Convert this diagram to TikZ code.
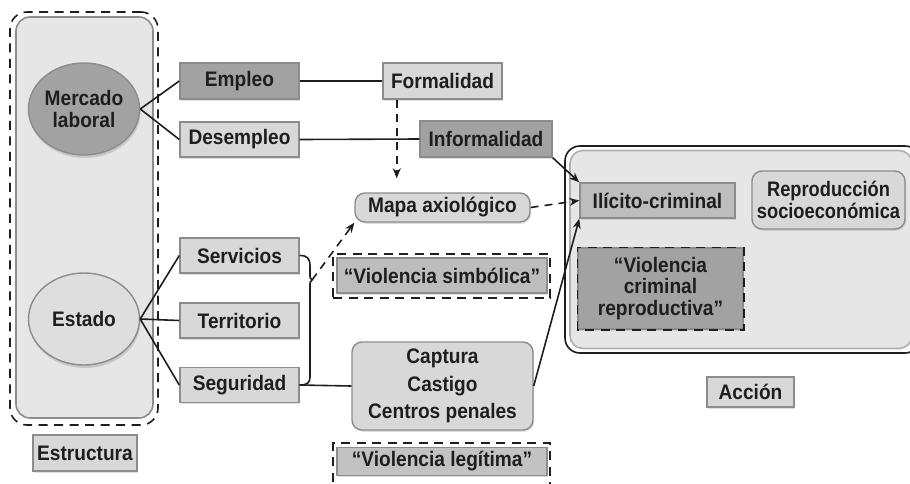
\documentclass[tikz,border=0pt]{standalone}
\usepackage{fontspec}
\setmainfont{Liberation Sans}[FakeStretch=0.91]
\newfontfamily\narrowf{Liberation Sans}[FakeStretch=0.87]
\usetikzlibrary{calc,shadows,arrows.meta,shapes.geometric}
\definecolor{txt}{HTML}{1E1E1E}
\definecolor{panel}{HTML}{E6E6E6}
\definecolor{lightf}{HTML}{D8D8D8}
\definecolor{midf}{HTML}{BDBDBD}
\definecolor{darkf}{HTML}{A2A2A2}
\definecolor{edge}{HTML}{8C8C8C}
\tikzset{
  lbl/.style={font=\fontsize{21}{21.5}\selectfont\bfseries, text=txt, align=center, inner sep=0pt},
  boxn/.style={lbl, rectangle, draw=edge, line width=1.4pt, drop shadow={opacity=0.25,shadow xshift=1.2pt,shadow yshift=-1.8pt}},
  rbox/.style={boxn, rounded corners=7pt},
  ell/.style={lbl, ellipse, draw=edge, line width=1.4pt, drop shadow={opacity=0.3,shadow xshift=1pt,shadow yshift=-3pt}},
  conn/.style={draw=txt, line width=1.6pt},
  dconn/.style={draw=txt, line width=1.6pt, dash pattern=on 8pt off 6pt},
  arr/.style={-{Stealth[length=10pt,width=8pt]}},
  dbox/.style={draw=txt, line width=1.6pt, dash pattern=on 9pt off 6.5pt},
}
\begin{document}
\begin{tikzpicture}[x=1pt,y=-1pt]
\useasboundingbox (0,0) rectangle (910,483);
% left panel
\node[draw=edge, line width=1.6pt, fill=panel, rounded corners=14pt, minimum width=137pt, minimum height=401pt, inner sep=0pt] (lpanel) at (84.5,217.5) {};
\node[dbox, rounded corners=17pt, minimum width=148pt, minimum height=413pt, inner sep=0pt] (lframe) at (84,218.5) {};
\node[ell, fill=darkf, minimum width=111pt, minimum height=92pt] (ml) at (84,109) {Mercado\\laboral};
\node[ell, fill=lightf!85!white, minimum width=111pt, minimum height=92pt] (est) at (84,319) {Estado};
\node[boxn, fill=lightf, minimum width=104pt, minimum height=36pt] (estr) at (85,453) {Estructura};
% column 2
\node[boxn, fill=darkf, minimum width=119pt, minimum height=36pt] (emp) at (239.5,81) {Empleo};
\node[boxn, fill=lightf, minimum width=119pt, minimum height=35pt] (des) at (239.5,139.5) {Desempleo};
\node[boxn, fill=lightf, minimum width=119pt, minimum height=35pt] (serv) at (239.5,255.5) {Servicios};
\node[boxn, fill=lightf, minimum width=119pt, minimum height=35pt] (terr) at (239.5,320.5) {Territorio};
\node[boxn, fill=lightf, minimum width=119pt, minimum height=35pt] (seg) at (239.5,385) {Seguridad};
% column 3
\node[boxn, fill=lightf, minimum width=119pt, minimum height=36pt] (form) at (442.5,81) {Formalidad};
\node[boxn, fill=darkf, minimum width=132pt, minimum height=36pt] (inf) at (486,139) {Informalidad};
\node[rbox, rounded corners=10pt, fill=lightf, minimum width=175pt, minimum height=29pt] (mapa) at (442.5,207.5) {Mapa axiológico};
\node[dbox, minimum width=217pt, minimum height=44pt, inner sep=0pt] (vsf) at (441.5,276) {};
\node[boxn, fill=midf, minimum width=210pt, minimum height=35pt] (vs) at (442,275.5) {“Violencia simbólica”};
\node[rbox, rounded corners=10pt, fill=lightf, minimum width=181pt, minimum height=88pt, font=\fontsize{21}{27.5}\selectfont\bfseries] (cap) at (442.5,386) {Captura\\Castigo\\Centros penales};
\node[dbox, minimum width=217pt, minimum height=48pt, inner sep=0pt] (vlf) at (441.5,467) {};
\node[boxn, fill=midf!80!lightf, minimum width=210pt, minimum height=28pt] (vl) at (442,461.5) {“Violencia legítima”};
% right panel
\node[draw=txt, line width=1.6pt, rounded corners=15pt, minimum width=355pt, minimum height=207pt, inner sep=0pt] (rframe) at (742.5,249.5) {};
\node[draw=edge!70!white, line width=1.6pt, fill=panel, rounded corners=13pt, minimum width=342pt, minimum height=198pt, inner sep=0pt] (rpanel) at (741,249.5) {};
\node[boxn, fill=midf, minimum width=155pt, minimum height=35pt] (ilic) at (657.5,200.5) {Ilícito-criminal};
\node[rbox, rounded corners=10pt, fill=lightf, minimum width=153pt, minimum height=58pt, font=\narrowf\fontsize{21}{21.5}\selectfont\bfseries] (rep) at (828.5,200) {Reproducción\\socioeconómica};
\node[boxn, fill=darkf, minimum width=165pt, minimum height=81pt] (vcr) at (660.5,288.5) {“Violencia\\criminal\\reproductiva”};
\draw[dbox] (vcr.south west) rectangle (vcr.north east);
\node[boxn, fill=lightf, minimum width=87pt, minimum height=30pt] (acc) at (750.5,392) {Acción};
% connectors
\draw[conn] (ml.east) -- (emp.west);
\draw[conn] (ml.east) -- (des.west);
\draw[conn] (est.east) -- (serv.west);
\draw[conn] (est.east) -- (terr.west);
\draw[conn] (est.east) -- (seg.west);
\draw[conn] (emp.east) -- (form.west);
\draw[conn] (des.east) -- (inf.west);
\coordinate (fs) at ($(form.south west)!0.12!(form.south east)$);
\draw[dconn, arr, shorten >=14pt] (fs) -- (fs |- mapa.north);
\draw[dconn, arr] (mapa.east) -- (ilic.west);
\draw[conn, arr] (inf.south east) -- (ilic.north west);
\draw[conn, arr] (cap.east) -- (ilic.south west);
% brace
\coordinate (bt) at (312,280);
\draw[conn] (serv.east) .. controls (307,255.5) and (310,258) .. (310,266) -- (310,274) .. controls (310,278) .. (bt)
  .. controls (310,282) .. (310,286) -- (310,377) .. controls (310,383) and (307,385) .. (seg.east);
\draw[conn] (seg.east) -- (cap.west);
\draw[dconn, arr] (bt) -- (mapa.south west);
\end{tikzpicture}
\end{document}
